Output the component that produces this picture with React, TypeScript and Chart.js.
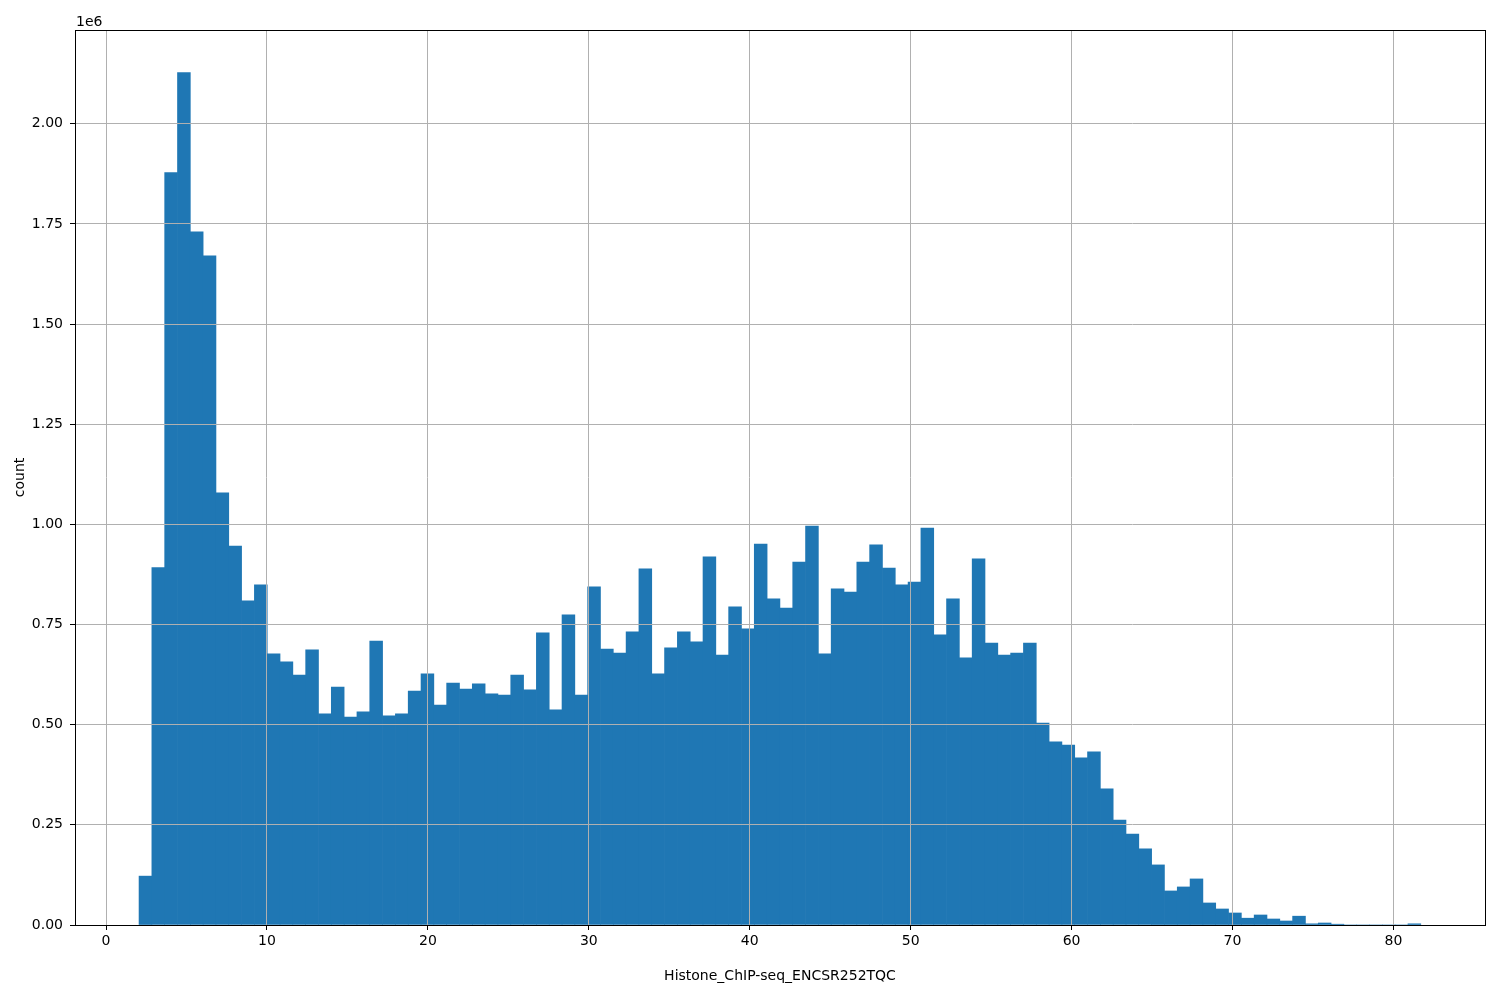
import React, { useEffect, useRef } from "react";
import { Chart, registerables } from "chart.js";

Chart.register(...registerables);

// Histogram bins: 100 equal-width bins
const BIN_START = 2.05;
const BIN_WIDTH = 0.7965;

// Counts per bin
const COUNTS = [
  122000, 892000, 1878000, 2128000, 1730000, 1670000, 1079000, 946000, 809000, 849000,
  677000, 657000, 624000, 687000, 527000, 594000, 519000, 532000, 709000, 522000,
  527000, 584000, 627000, 549000, 604000, 589000, 602000, 577000, 574000, 624000,
  587000, 729000, 537000, 774000, 574000, 844000, 689000, 679000, 732000, 889000,
  627000, 692000, 732000, 707000, 919000, 674000, 794000, 739000, 951000, 814000,
  791000, 906000, 996000, 677000, 839000, 831000, 906000, 949000, 891000, 849000,
  856000, 991000, 724000, 814000, 667000, 914000, 704000, 674000, 679000, 704000,
  504000, 457000, 449000, 417000, 432000, 340000, 262000, 227000, 190000, 150000,
  85000, 95000, 115000, 55000, 40000, 30000, 17000, 25000, 15000, 10000,
  22000, 3000, 5000, 2000, 0, 0, 0, 0, 0, 3000,
];

const X_TICK_STEP = 10;
const Y_TICKS = [0, 250000, 500000, 750000, 1000000, 1250000, 1500000, 1750000, 2000000];

const X_LABEL = "Histone_ChIP-seq_ENCSR252TQC";
const Y_LABEL = "count";
const OFFSET_LABEL = "1e6";

const X_MIN = -1.93;
const X_MAX = 85.69;
const Y_MAX = 2234000;

const FONT = "DejaVu Sans";

const decorPlugin = {
  id: "decor",
  afterDraw(chart: any) {
    const { ctx, chartArea: a } = chart;
    ctx.save();
    ctx.strokeStyle = "#000";
    ctx.lineWidth = 1;
    const l = Math.round(a.left) + 0.5;
    const t = Math.round(a.top) + 0.5;
    const r = Math.round(a.right) + 0.5;
    const b = Math.round(a.bottom) + 0.5;
    ctx.strokeRect(l, t, r - l, b - t);
    ctx.fillStyle = "#000";
    ctx.font = `14px "${FONT}"`;
    ctx.textAlign = "left";
    ctx.textBaseline = "alphabetic";
    ctx.fillText(OFFSET_LABEL, a.left + 1, a.top - 4);
    ctx.restore();
  },
};

export default function App() {
  const canvasRef = useRef<HTMLCanvasElement | null>(null);

  useEffect(() => {
    const canvas = canvasRef.current;
    if (!canvas) return;
    Chart.defaults.font.family = FONT;
    const data = COUNTS.map((c, i) => ({ x: BIN_START + (i + 0.5) * BIN_WIDTH, y: c }));
    const chart = new Chart(canvas, {
      type: "bar",
      data: {
        datasets: [
          {
            data: data as any,
            backgroundColor: "#1f77b4",
            borderWidth: 0,
            barPercentage: 1,
            categoryPercentage: 1,
          },
        ],
      },
      options: {
        animation: false,
        responsive: false,
        devicePixelRatio: 1,
        layout: { padding: { left: 0, right: 15, top: 30, bottom: 0 } },
        plugins: {
          legend: { display: false },
          tooltip: { enabled: false },
        },
        scales: {
          x: {
            type: "linear",
            min: X_MIN,
            max: X_MAX,
            offset: false,
            ticks: {
              stepSize: X_TICK_STEP,
              includeBounds: false,
              color: "#000",
              font: { family: FONT, size: 14 },
              padding: 3,
              maxRotation: 0,
              autoSkip: false,
              callback: (v: any) => String(v),
            },
            grid: {
              offset: false,
              color: "#b0b0b0",
              lineWidth: 1,
              tickColor: "#000",
              tickLength: 5,
              tickWidth: 1,
              z: 1,
            } as any,
            border: { display: false },
            title: {
              display: true,
              text: X_LABEL,
              color: "#000",
              font: { family: FONT, size: 14 },
              padding: { top: 0, bottom: 15 },
            },
            afterFit: (s: any) => {
              s.height = 75;
            },
          } as any,
          y: {
            type: "linear",
            min: 0,
            max: Y_MAX,
            afterBuildTicks: (s: any) => {
              s.ticks = Y_TICKS.map((v) => ({ value: v }));
            },
            ticks: {
              color: "#000",
              font: { family: FONT, size: 14 },
              padding: 7,
              autoSkip: false,
              callback: (v: any) => (Number(v) / 1e6).toFixed(2),
            },
            grid: {
              color: "#b0b0b0",
              lineWidth: 1,
              tickColor: "#000",
              tickLength: 5,
              tickWidth: 1,
              z: 1,
            } as any,
            border: { display: false },
            title: {
              display: true,
              text: Y_LABEL,
              color: "#000",
              font: { family: FONT, size: 14 },
              padding: { top: 12, bottom: 0 },
            },
            afterFit: (s: any) => {
              s.width = 75;
            },
          } as any,
        },
      },
      plugins: [decorPlugin],
    });
    return () => chart.destroy();
  }, []);

  return (
    <div
      style={{
        position: "fixed",
        left: 0,
        top: 0,
        width: 1500,
        height: 1000,
        background: "#fff",
      }}
    >
      <canvas ref={canvasRef} width={1500} height={1000} style={{ display: "block" }} />
    </div>
  );
}
